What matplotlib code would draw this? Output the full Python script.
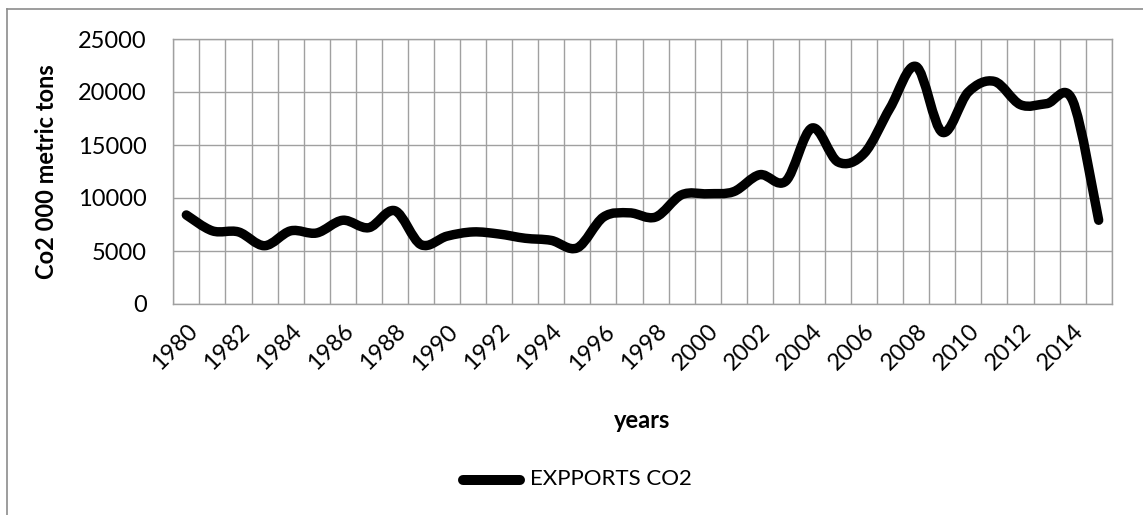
import matplotlib
matplotlib.use('Agg')
import matplotlib.pyplot as plt
import numpy as np
from matplotlib.path import Path
from matplotlib.patches import PathPatch
from matplotlib.lines import Line2D

# CO2 exports, thousand metric tons
years = list(range(1980, 2016))
exports = [8400, 6900, 6800, 5500, 6900, 6700, 7900, 7200, 8800, 5600,
           6400, 6800, 6600, 6200, 6000, 5300, 8200, 8600, 8200, 10300,
           10400, 10600, 12200, 11600, 16600, 13400, 14200, 18500, 22400, 16200,
           20000, 21000, 18800, 18900, 19200, 7900]
yticks = [0, 5000, 10000, 15000, 20000, 25000]
series_name = "EXPPORTS CO2"

plt.rcParams['font.family'] = ['Lato', 'DejaVu Sans']

W, H = 1143, 515
fig = plt.figure(figsize=(W / 100, H / 100), dpi=100)
ax = fig.add_axes([173.3 / W, 1 - 304 / H, 938.4 / W, 265 / H])


def smooth_path(x, y):
    # spreadsheet-style smoothed line: cubic bezier, catmull-rom control points
    pts = np.column_stack([x, y]).astype(float)
    n = len(pts)
    verts = [pts[0]]
    codes = [Path.MOVETO]
    for i in range(n - 1):
        p0 = pts[i - 1] if i > 0 else pts[i]
        p1 = pts[i]
        p2 = pts[i + 1]
        p3 = pts[i + 2] if i + 2 < n else pts[i + 1]
        c1 = p1 + (p2 - p0) / 6.0
        c2 = p2 - (p3 - p1) / 6.0
        verts += [c1, c2, p2]
        codes += [Path.CURVE4] * 3
    return Path(verts, codes)


line = PathPatch(smooth_path(years, exports), facecolor='none', edgecolor='black',
                 lw=6.8, capstyle='round', joinstyle='round', zorder=3)
ax.add_patch(line)

ax.set_xlim(years[0] - 0.5, years[-1] + 0.5)
ax.set_ylim(0, 25000)

# gridlines between categories
ax.set_xticks(np.arange(years[0] - 0.5, years[-1] + 1, 1.0), minor=True)
ax.set_xticks(years[::2])
ax.set_xticklabels([str(y) for y in years[::2]], rotation=45, ha='right',
                   rotation_mode='anchor', fontsize=17)
ax.set_yticks(yticks)
ax.set_yticklabels([str(v) for v in yticks], fontsize=17)
ax.grid(True, which='minor', axis='x', color='#a0a0a0', lw=1.0)
ax.grid(True, which='major', axis='y', color='#a0a0a0', lw=1.0)
ax.grid(False, which='major', axis='x')
ax.tick_params(axis='both', which='both', length=0)
ax.tick_params(axis='y', pad=19)
ax.tick_params(axis='x', pad=12)
ax.set_axisbelow(True)
for s in ax.spines.values():
    s.set_color('#a0a0a0')
    s.set_linewidth(1.0)

ax.set_ylabel("Co2 000 metric tons", fontsize=17, fontweight='bold')
ax.yaxis.set_label_coords((58 - 173.3) / 938.4, 0.5)
ax.set_xlabel("years", fontsize=17, fontweight='bold')
ax.xaxis.set_label_coords((642 - 173.3) / 938.4, (304 - 409) / 265)

# legend drawn in figure pixels
fig.add_artist(Line2D([463 / W, 520 / W], [1 - 480 / H, 1 - 480 / H], color='black',
                      lw=7.2, solid_capstyle='round', transform=fig.transFigure))
fig.text(530 / W, 1 - 479 / H, series_name, fontsize=16, va='center', ha='left')

# chart area frame
fig.add_artist(Line2D([7 / W, 7 / W], [0, 1 - 9 / H], color='#8c8c8c', lw=1.2,
                      transform=fig.transFigure))
fig.add_artist(Line2D([7 / W, 1], [1 - 9 / H, 1 - 9 / H], color='#8c8c8c', lw=1.2,
                      transform=fig.transFigure))

fig.savefig('out.png', dpi=100)
